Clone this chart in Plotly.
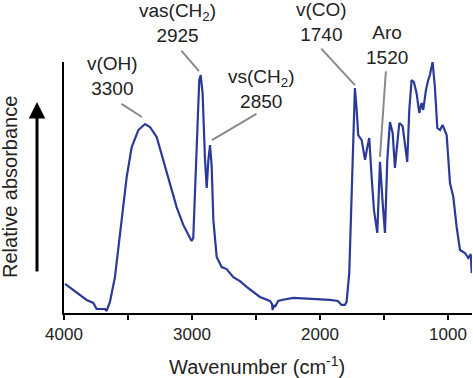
import plotly.graph_objects as go

# Wavenumber (cm-1) and relative absorbance
wavenumber = [3992, 3927, 3823, 3771, 3745, 3700, 3680, 3667, 3641, 3602, 3576, 3549,
              3510, 3471, 3419, 3367, 3328, 3276, 3224, 3172, 3120, 3068, 3029, 3003,
              2990, 2977, 2964, 2943, 2932, 2917, 2898, 2885, 2872, 2859, 2846, 2833,
              2807, 2768, 2729, 2677, 2625, 2573, 2469, 2391, 2375, 2370, 2360, 2352,
              2326, 2300, 2208, 2052, 1922, 1860, 1831, 1805, 1792, 1771, 1753, 1745,
              1727, 1713, 1701, 1674, 1648, 1630, 1615, 1596, 1578, 1552, 1531, 1510,
              1492, 1474, 1453, 1432, 1414, 1401, 1380, 1354, 1336, 1318, 1302, 1284,
              1266, 1245, 1224, 1206, 1193, 1172, 1154, 1141, 1120, 1102, 1083, 1062,
              1042, 1010, 984, 958, 932, 906, 867, 841, 822, 814]
absorbance = [0.116, 0.092, 0.052, 0.040, 0.016, 0.016, 0.016, 0.008, 0.044, 0.143, 0.251, 0.382,
              0.542, 0.661, 0.729, 0.753, 0.741, 0.701, 0.610, 0.518, 0.422, 0.351, 0.311, 0.287,
              0.299, 0.478, 0.677, 0.928, 0.948, 0.876, 0.610, 0.498, 0.610, 0.669, 0.582, 0.371,
              0.223, 0.183, 0.175, 0.143, 0.127, 0.104, 0.064, 0.048, 0.036, 0.012, 0.032, 0.024,
              0.048, 0.052, 0.060, 0.056, 0.052, 0.048, 0.032, 0.032, 0.044, 0.159, 0.490, 0.649,
              0.896, 0.809, 0.709, 0.689, 0.610, 0.661, 0.697, 0.542, 0.410, 0.319, 0.602, 0.438,
              0.319, 0.610, 0.761, 0.717, 0.578, 0.649, 0.757, 0.745, 0.677, 0.602, 0.809, 0.928,
              0.920, 0.876, 0.797, 0.837, 0.809, 0.888, 0.928, 0.948, 1.000, 0.900, 0.737, 0.729,
              0.749, 0.709, 0.518, 0.462, 0.343, 0.251, 0.239, 0.219, 0.235, 0.159]

tick_values = [4000, 3500, 3000, 2500, 2000, 1500, 1000]
tick_labels = ["4000", "", "3000", "", "2000", "", "1000"]

# Band labels: text, leader-line end (wavenumber, absorbance)
band_text = ["v(OH)<br>3300", "vas(CH<sub>2</sub>)<br>2925", "vs(CH<sub>2</sub>)<br>2850",
             "v(CO)<br>1740", "Aro<br>1520"]
band_wn = [3391, 2945, 2844, 1727, 1531]
band_abs = [0.781, 0.964, 0.689, 0.908, 0.622]
# layout helpers (pixels)
text_px = [(112, 76.5), (177, 23.5), (261, 89), (321.5, 22), (387, 45)]
line_offsets = [(-22, -14), (-19, -22), (46, -27), (-35, -38), (6, -87)]

L, R, T, B = 64, 1, 62, 65
W, H = 473, 378
PW, PH = W - L - R, H - T - B

fig = go.Figure()
fig.add_trace(go.Scatter(x=wavenumber, y=absorbance, mode="lines",
                         line=dict(color="#2b3a98", width=2.2), showlegend=False,
                         hoverinfo="skip"))

ann = []
for t, (px, py), wn, ab, (ax, ay) in zip(band_text, text_px, band_wn, band_abs, line_offsets):
    ann.append(dict(text=t, xref="paper", yref="paper", x=(px - L) / PW, y=(H - B - py) / PH,
                    xanchor="center", yanchor="middle", showarrow=False,
                    font=dict(size=19, color="#222", family="Liberation Sans, Arial")))
    ann.append(dict(text="", xref="x", yref="y", x=wn, y=ab, ax=ax, ay=ay,
                    showarrow=True, arrowhead=0, arrowwidth=2, arrowcolor="#8a8a8a",
                    standoff=0))

# y title and arrow
ann.append(dict(text="Relative absorbance", xref="paper", yref="paper",
                x=(10 - L) / PW, y=(H - B - 187) / PH, textangle=-90,
                xanchor="center", yanchor="middle", showarrow=False,
                font=dict(size=20, color="#222", family="Liberation Sans, Arial")))
ann.append(dict(text="", xref="paper", yref="paper", x=(37 - L) / PW, y=(H - B - 102) / PH,
                ax=0, ay=171, showarrow=True, arrowhead=2, arrowsize=1.1, arrowwidth=3,
                arrowcolor="black", standoff=0))
# x title
ann.append(dict(text="Wavenumber (cm<sup>-1</sup>)", xref="paper", yref="paper",
                x=(257 - L) / PW, y=(H - B - 365) / PH, xanchor="center", yanchor="middle",
                showarrow=False,
                font=dict(size=20, color="#222", family="Liberation Sans, Arial")))

fig.update_layout(
    width=W, height=H,
    margin=dict(l=L, r=R, t=T, b=B),
    paper_bgcolor="white", plot_bgcolor="white",
    annotations=ann,
    font=dict(family="Liberation Sans, Arial", color="#222"),
)
fig.update_xaxes(range=[4000, 812], autorange=False, showgrid=False, zeroline=False,
                 showline=True, linecolor="black", linewidth=2,
                 tickvals=tick_values, ticktext=tick_labels, ticks="outside",
                 ticklen=5, tickwidth=2, tickcolor="black",
                 tickfont=dict(size=17, color="#222"))
fig.update_yaxes(range=[0, 1.0], autorange=False, showgrid=False, zeroline=False,
                 showline=True, linecolor="black", linewidth=2,
                 showticklabels=False, ticks="")

fig.write_html("out.html",
               config={"displayModeBar": False, "staticPlot": True},
               post_script="document.body.style.margin='0';"
                           "document.body.style.overflow='hidden';"
                           "document.documentElement.style.overflow='hidden';")
